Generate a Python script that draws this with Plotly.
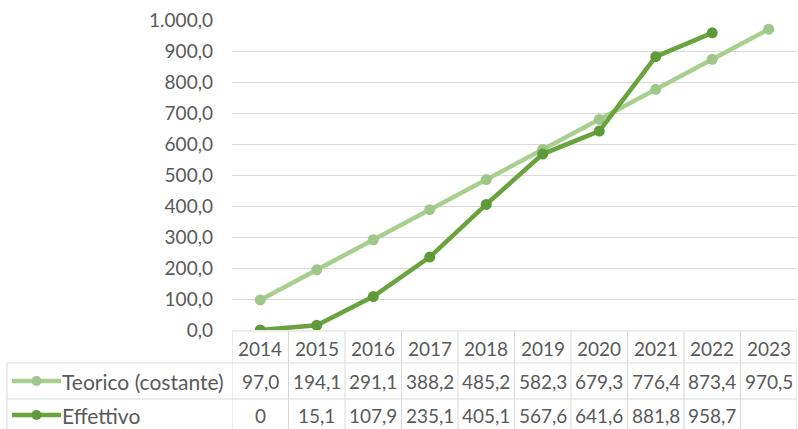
import plotly.graph_objects as go

years = ["2014", "2015", "2016", "2017", "2018", "2019", "2020", "2021", "2022", "2023"]
teorico = [97.0, 194.1, 291.1, 388.2, 485.2, 582.3, 679.3, 776.4, 873.4, 970.5]
effettivo = [0, 15.1, 107.9, 235.1, 405.1, 567.6, 641.6, 881.8, 958.7, None]
series_names = ["Teorico (costante)", "Effettivo"]
y_ticks = [0, 100, 200, 300, 400, 500, 600, 700, 800, 900, 1000]

C_TEO = "#a8cf8e"
C_TEO_M = "#a0c78a"
C_EFF = "#68a33e"
C_EFF_M = "#5f9a38"
TXT = "#595959"
GRID = "#d9d9d9"
FONT = "Lato"

W, H = 798, 429
def py(p):  # screen pixel y -> paper
    return (H - p) / H
def px(p):  # screen pixel x -> paper
    return p / W

def fmt(v):
    if v is None:
        return ""
    if v == 0:
        return "0"
    return f"{v:.1f}".replace(".", ",")

fig = go.Figure()
fig.add_trace(go.Scatter(x=years, y=teorico, mode="lines+markers", name=series_names[0],
                         line=dict(color=C_TEO, width=4.5), marker=dict(size=11, color=C_TEO_M)))
fig.add_trace(go.Scatter(x=years, y=effettivo, mode="lines+markers", name=series_names[1],
                         line=dict(color=C_EFF, width=4.5), marker=dict(size=11, color=C_EFF_M)))

shapes = []
ann = []
y_top, y_r1, y_r2, y_bot = 331, 363, 399, 432
x_left = 7
for i in range(len(years) + 1):
    shapes.append(dict(type="line", xref="x", yref="paper", x0=i - 0.5, x1=i - 0.5,
                       y0=py(y_top), y1=py(y_bot), line=dict(color=GRID, width=1)))
for yy in (y_r1, y_r2):
    shapes.append(dict(type="line", xref="paper", yref="paper", x0=px(x_left), x1=px(797),
                       y0=py(yy), y1=py(yy), line=dict(color=GRID, width=1)))
shapes.append(dict(type="line", xref="x", yref="paper", x0=-0.5, x1=9.5,
                   y0=py(y_top), y1=py(y_top), line=dict(color=GRID, width=1)))
shapes.append(dict(type="line", xref="paper", yref="paper", x0=px(x_left), x1=px(x_left),
                   y0=py(y_r1), y1=py(y_bot), line=dict(color=GRID, width=1)))

fs = 19
def txt(x, y, s, xref="x", xanchor="center", size=fs):
    ann.append(dict(x=x, y=y, xref=xref, yref="paper", text=s, showarrow=False,
                    xanchor=xanchor, yanchor="middle",
                    font=dict(size=size, color=TXT, family=FONT)))

for i, yv in enumerate(years):
    txt(i, py((y_top + y_r1) / 2 + 1), yv)
    txt(i, py((y_r1 + y_r2) / 2), fmt(teorico[i]))
    txt(i, py((y_r2 + 429) / 2 + 1), fmt(effettivo[i]))

for name, col, mcol, yc in ((series_names[0], C_TEO, C_TEO_M, (y_r1 + y_r2) / 2),
                            (series_names[1], C_EFF, C_EFF_M, (y_r2 + 429) / 2 + 1)):
    shapes.append(dict(type="line", xref="paper", yref="paper", x0=px(12), x1=px(61),
                       y0=py(yc), y1=py(yc), line=dict(color=col, width=4.5)))
    shapes.append(dict(type="circle", xref="paper", yref="paper", x0=px(31.5), x1=px(41.5),
                       y0=py(yc + 5), y1=py(yc - 5), fillcolor=mcol, line=dict(width=0)))
    txt(px(60), py(yc), name, xref="paper", xanchor="left", size=21)

fig.update_layout(
    width=W, height=H, margin=dict(l=0, r=0, t=0, b=0, pad=0),
    paper_bgcolor="white", plot_bgcolor="white",
    separators=",.",
    showlegend=False,
    shapes=shapes, annotations=ann,
    xaxis=dict(type="category", range=[-0.5, 9.5], domain=[px(232), px(797)], automargin=False,
               showticklabels=False, showgrid=False, zeroline=False, showline=False, ticks=""),
    yaxis=dict(range=[0, 1000.01], domain=[py(330), py(20)], tickvals=y_ticks, tickformat=",.1f",
               automargin=False,
               showgrid=True, gridcolor=GRID, gridwidth=1.3, zeroline=False, showline=False,
               ticklabelstandoff=18, tickfont=dict(size=fs, color=TXT, family=FONT)),
)
fig.write_html("out.html", config={"displayModeBar": False},
               post_script="document.body.style.margin='0';document.body.style.overflow='hidden';")
